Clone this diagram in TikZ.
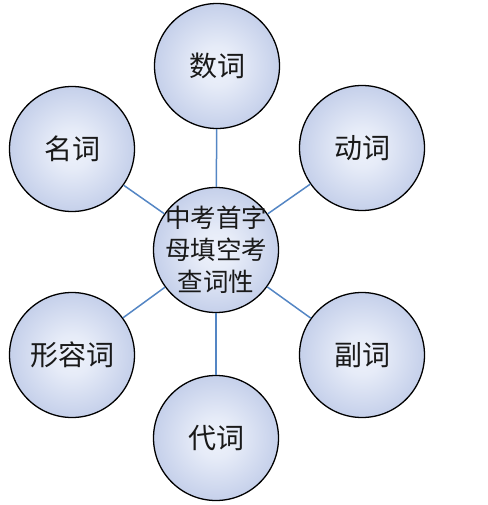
\documentclass[tikz,border=0pt]{standalone}
\usepackage{fontspec}
\newfontfamily\cjk{Noto Sans CJK SC}
\definecolor{bubin}{RGB}{238,242,251}
\definecolor{bubout}{RGB}{172,187,224}
\definecolor{linkblue}{RGB}{84,134,196}
\definecolor{txt}{RGB}{25,25,25}
\pgfdeclareradialshading{bubble}{\pgfpoint{0bp}{0bp}}{color(0bp)=(bubin); color(8bp)=(bubin!88!bubout); color(38bp)=(bubout); color(50bp)=(bubout)}
\tikzset{
  bub/.style={circle, draw=black, line width=1.3pt, minimum size=125pt, inner sep=0pt,
    shading=bubble, font=\cjk\fontsize{28}{32}\selectfont, text=txt, align=center},
  hubtext/.style={font=\cjk\fontsize{25.5}{32}\selectfont, text=txt, align=center, inner sep=0pt},
  link/.style={draw=linkblue, line width=1.5pt}
}
\begin{document}
\begin{tikzpicture}[x=1pt,y=-1pt]
\useasboundingbox (0,0) rectangle (487,505);
\node[bub, label={[hubtext]center:中考首字\\母填空考\\查词性}] (c) at (216,250) {};
\node[bub] (n1) at (217,66) {数词};
\node[bub] (n2) at (72,149) {名词};
\node[bub] (n3) at (362,148) {动词};
\node[bub] (n4) at (72,355) {形容词};
\node[bub] (n5) at (362,355) {副词};
\node[bub] (n6) at (216,438) {代词};
\foreach \n in {n1,n2,n3,n4,n5,n6} \draw[link] (c) -- (\n);
\end{tikzpicture}
\end{document}
